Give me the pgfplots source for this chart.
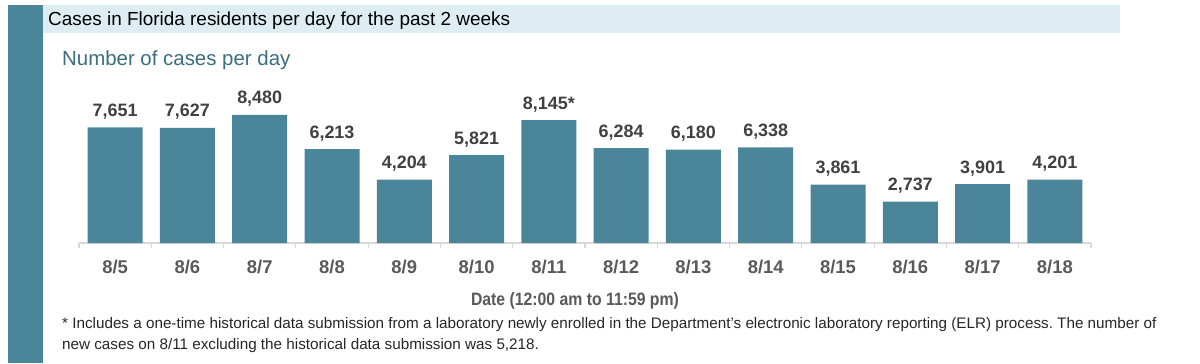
\documentclass[border=0pt]{standalone}
\usepackage{pgfplots}
\pgfplotsset{compat=1.18}
\usepackage{pgfplotstable}
\usepackage{fontspec}
\setmainfont{Liberation Sans}
\newfontfamily\condfont{Liberation Sans}[FakeStretch=0.88]
\definecolor{barteal}{HTML}{4A8599}
\definecolor{band}{HTML}{DEEDF2}
\definecolor{vallab}{HTML}{404040}
\definecolor{ticklab}{HTML}{595959}
\definecolor{axgray}{HTML}{D9D9D9}
\definecolor{foot}{HTML}{262626}
\definecolor{subt}{HTML}{3B6E7E}
\frenchspacing
\pgfplotstableread{
x y lbl
0 7651 7,651
1 7627 7,627
2 8480 8,480
3 6213 6,213
4 4204 4,204
5 5821 5,821
6 8145 8,145*
7 6284 6,284
8 6180 6,180
9 6338 6,338
10 3861 3,861
11 2737 2,737
12 3901 3,901
13 4201 4,201
}\cases
\begin{document}
\begin{tikzpicture}[x=1bp,y=1bp]
\path (0,0) rectangle (1200,363);
\fill[barteal] (8,0) rectangle (43,358);
\fill[band] (43,330) rectangle (1120,358);
\node[anchor=base west, inner sep=0pt, font=\fontsize{19}{23}\selectfont] at (48,338) {Cases in Florida residents per day for the past 2 weeks};
\node[anchor=base west, inner sep=0pt, text=subt, font=\fontsize{20.5}{24}\selectfont] at (62,298) {Number of cases per day};
\begin{axis}[
  at={(79bp,120bp)}, anchor=south west,
  scale only axis, width=1012bp, height=151bp,
  xmin=-0.5, xmax=13.5, ymin=0, ymax=10000,
  axis x line=bottom, axis y line=none,
  x axis line style={-, draw=axgray, line width=1.2bp},
  ybar, bar width=55bp,
  xtick={0,...,13},
  xticklabels={8/5,8/6,8/7,8/8,8/9,8/10,8/11,8/12,8/13,8/14,8/15,8/16,8/17,8/18},
  major tick length=0pt,
  x tick label style={anchor=base, yshift=-30bp, text=ticklab, font=\fontsize{18.5}{22}\selectfont\bfseries, inner sep=0pt},
  extra x ticks={-0.5,0.5,...,13.5},
  extra x tick labels={},
  extra x tick style={tick align=outside, major tick length=5bp, tick style={draw=axgray, line width=1.2bp}},
  clip=false,
  nodes near coords,
  point meta=explicit symbolic,
  every node near coord/.append style={anchor=base, yshift=11bp, inner sep=0pt, text=vallab, font=\fontsize{18}{22}\selectfont\bfseries},
]
\addplot[fill=barteal, draw=none] table[x=x, y=y, meta=lbl] {\cases};
\end{axis}
\node[anchor=base, inner sep=0pt, text=ticklab, font=\condfont\fontsize{18}{22}\selectfont\bfseries] at (575,58) {Date (12:00 am to 11:59 pm)};
\node[anchor=base west, inner sep=0pt, text=foot, font=\fontsize{15.3}{18}\selectfont] at (62,35) {* Includes a one-time historical data submission from a laboratory newly enrolled in the Department’s electronic laboratory reporting (ELR) process. The number of};
\node[anchor=base west, inner sep=0pt, text=foot, font=\fontsize{15.3}{18}\selectfont] at (62,14) {new cases on 8/11 excluding the historical data submission was 5,218.};
\end{tikzpicture}
\end{document}
